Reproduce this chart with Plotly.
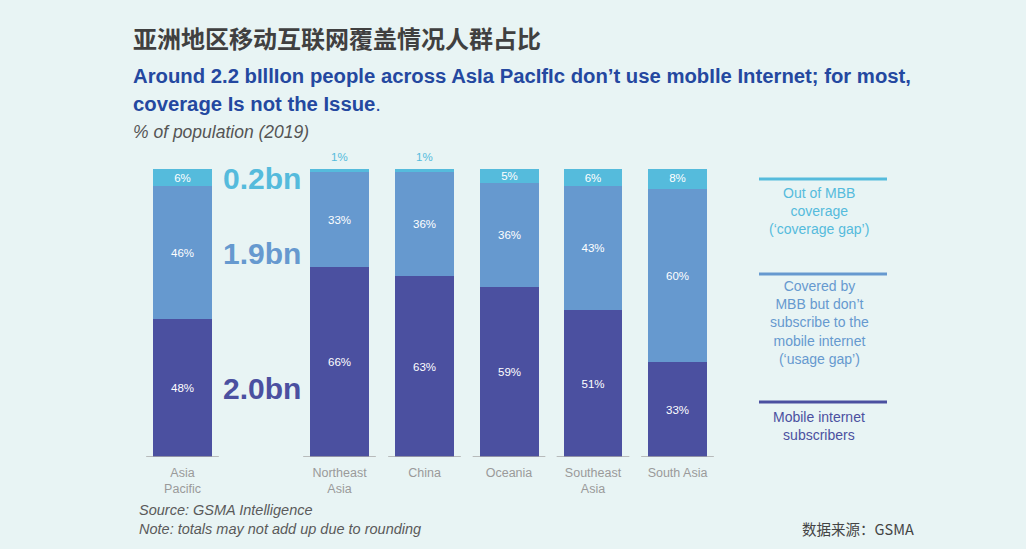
import plotly.graph_objects as go

# ---- data ----
regions = ["Asia<br>Pacific", "Northeast<br>Asia", "China", "Oceania", "Southeast<br>Asia", "South Asia"]
subscribers = [48, 66, 63, 59, 51, 33]
usage_gap = [46, 33, 36, 36, 43, 60]
coverage_gap = [6, 1, 1, 5, 6, 8]
totals_bn = ["0.2bn", "1.9bn", "2.0bn"]

# ---- layout helpers ----
W, H = 1026, 549
TOP_PX, BOT_PX = 169, 457
UNIT = 84.5
x_pos = [0, 1.858, 2.864, 3.864, 4.858, 5.858]
x0 = -182.5 / UNIT
x1 = x0 + W / UNIT

def py(p):  # pixel y -> paper y
    return (BOT_PX - p) / (BOT_PX - TOP_PX)

def px(p):
    return p / W

C_DARK = "#4B50A0"
C_MID = "#6699CF"
C_LIGHT = "#55BBDC"
BG = "#E8F4F4"
FONT = "Liberation Sans, Arial"

fig = go.Figure()
for vals, col, name in [(subscribers, C_DARK, "Mobile internet subscribers"),
                        (usage_gap, C_MID, "Usage gap"),
                        (coverage_gap, C_LIGHT, "Coverage gap")]:
    txt = [f"{v}%" if v >= 2 else "" for v in vals]
    fig.add_trace(go.Bar(
        x=x_pos, y=vals, name=name, marker=dict(color=col, line=dict(width=0)),
        width=0.698, text=txt, texttemplate="%{text}", textposition="inside",
        insidetextanchor="middle",
        textfont=dict(family=FONT, size=11.5, color="white"),
        hoverinfo="skip", showlegend=False))

# small values shown above bars
for i, v in enumerate(coverage_gap):
    if v < 2:
        fig.add_annotation(x=x_pos[i], y=subscribers[i] + usage_gap[i] + v, yshift=12,
                           text=f"{v}%", showarrow=False, xref="x", yref="y",
                           font=dict(family=FONT, size=11.5, color=C_LIGHT))

# base lines under bars
for xp in x_pos:
    fig.add_shape(type="line", x0=xp - 0.43, x1=xp + 0.43, y0=0, y1=0, xref="x", yref="y",
                  line=dict(color="#A8A8A8", width=1.5))

# big bn labels
for t, col, ypx in zip(totals_bn, [C_LIGHT, C_MID, C_DARK], [178, 253, 388]):
    fig.add_annotation(x=px(262), y=py(ypx), xref="paper", yref="paper", text=f"<b>{t}</b>",
                       showarrow=False, xanchor="center", yanchor="middle",
                       font=dict(family=FONT, size=30, color=col))

# legend lines + texts
leg = [(179, C_LIGHT, "Out of MBB<br>coverage<br>(‘coverage gap’)", 210.5),
       (274, C_MID, "Covered by<br>MBB but don’t<br>subscribe to the<br>mobile internet<br>(‘usage gap’)", 322.5),
       (402, C_DARK, "Mobile internet<br>subscribers", 425.5)]
for ly, col, txt, ty in leg:
    fig.add_shape(type="line", x0=px(759), x1=px(887), y0=py(ly), y1=py(ly), xref="paper", yref="paper",
                  line=dict(color=col, width=3))
    fig.add_annotation(x=px(819), y=py(ty), xref="paper", yref="paper", text=txt, showarrow=False,
                       xanchor="center", yanchor="middle", align="center",
                       font=dict(family=FONT, size=14, color=col))

# titles
fig.add_annotation(x=px(131), y=py(37), xref="paper", yref="paper", xanchor="left", yanchor="middle",
                   text="亚洲地区移动互联网覆盖情况人群占比", showarrow=False,
                   font=dict(family="Noto Sans CJK SC", size=24, color="#404040", weight=600))
fig.add_annotation(x=px(131), y=py(76), xref="paper", yref="paper", xanchor="left", yanchor="middle",
                   text="<b>Around 2.2 bIllIon people across AsIa PacIfIc don’t use mobIle Internet; for most,</b>",
                   showarrow=False, font=dict(family=FONT, size=20.3, color="#2448A0"))
fig.add_annotation(x=px(131), y=py(104), xref="paper", yref="paper", xanchor="left", yanchor="middle",
                   text="<b>coverage Is not the Issue</b>.",
                   showarrow=False, font=dict(family=FONT, size=20.3, color="#2448A0"))
fig.add_annotation(x=px(131), y=py(132), xref="paper", yref="paper", xanchor="left", yanchor="middle",
                   text="<i>% of population (2019)</i>",
                   showarrow=False, font=dict(family=FONT, size=17.5, color="#555555"))

# footer
fig.add_annotation(x=px(137), y=py(510), xref="paper", yref="paper", xanchor="left", yanchor="middle",
                   text="<i>Source: GSMA Intelligence</i>", showarrow=False,
                   font=dict(family=FONT, size=14.5, color="#5A5A5A"))
fig.add_annotation(x=px(137), y=py(529), xref="paper", yref="paper", xanchor="left", yanchor="middle",
                   text="<i>Note: totals may not add up due to rounding</i>", showarrow=False,
                   font=dict(family=FONT, size=14.5, color="#5A5A5A"))
fig.add_annotation(x=px(916), y=py(528), xref="paper", yref="paper", xanchor="right", yanchor="middle",
                   text="数据来源：GSMA", showarrow=False,
                   font=dict(family="Noto Sans CJK SC", size=14.5, color="#444444"))

fig.update_layout(
    width=W, height=H, barmode="stack", bargap=0,
    paper_bgcolor=BG, plot_bgcolor=BG,
    margin=dict(l=0, r=0, t=TOP_PX, b=H - BOT_PX, pad=0),
    uniformtext=dict(minsize=11.5, mode="show"),
    xaxis=dict(range=[x0, x1], tickvals=x_pos, ticktext=regions, showgrid=False, zeroline=False,
               showline=False, ticks="", ticklabelstandoff=6,
               tickfont=dict(family=FONT, size=12.5, color="#9A9A9A")),
    yaxis=dict(range=[0, 100], visible=False, showgrid=False, zeroline=False),
    font=dict(family=FONT),
)
fig.write_html("out.html", config={"displayModeBar": False},
               post_script="document.body.style.margin='0px';document.body.style.padding='0px';"
                           "document.body.style.background='" + BG + "';")
